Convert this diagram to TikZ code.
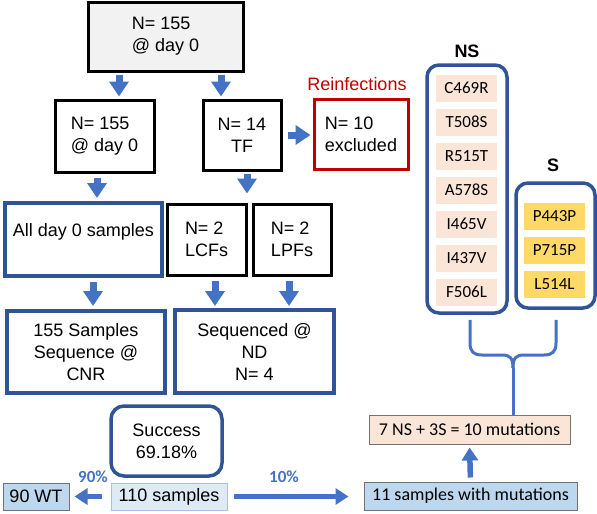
\documentclass[tikz,border=0pt]{standalone}
\usepackage{fontspec}
\setmainfont{Liberation Sans}
\newfontfamily\calibri{Carlito}
\usetikzlibrary{arrows.meta, positioning}
\definecolor{arrowblue}{HTML}{4472C4}
\definecolor{darkblue}{HTML}{2F5597}
\definecolor{peach}{HTML}{FBE5D6}
\definecolor{gold}{HTML}{FFD966}
\definecolor{paleblue}{HTML}{DEEBF7}
\definecolor{lightblue}{HTML}{BDD7EE}
\definecolor{reinf}{HTML}{C00000}

\begin{document}
\begin{tikzpicture}[x=1pt, y=-1pt,
  every node/.style={font=\fontsize{18}{22}\selectfont, inner sep=0pt},
  blackbox/.style={draw=black, line width=3pt, align=left},
  bluebox/.style={draw=darkblue, line width=4pt, align=center},
  roundbox/.style={draw=darkblue, line width=3.5pt, rounded corners=13pt},
  flatbox/.style={draw=black!55, line width=1pt, font=\calibri\fontsize{18}{22}\selectfont},
  cell/.style={minimum width=61pt, minimum height=27pt, font=\calibri\fontsize{17}{20}\selectfont},
  fat/.style={draw=arrowblue, line width=7pt, -{Triangle[length=15pt,width=19pt]}},
  slim/.style={draw=arrowblue, line width=5.5pt, -{Triangle[length=13pt,width=16pt]}},
  brace/.style={draw=arrowblue, line width=3pt},
  pct/.style={text=arrowblue, font=\calibri\bfseries\fontsize{17}{20}\selectfont}
]
  \useasboundingbox (0,0) rectangle (597,514);

  % left column: screening
  \node[blackbox, fill=black!5, minimum width=155pt, minimum height=69pt] (top) at (165.5,36.5) {N= 155\\@ day 0};
  \node[blackbox, minimum width=99pt, minimum height=72pt] (day0) at (104.5,136) {N= 155\\@ day 0};
  \node[blackbox, align=center, minimum width=78pt, minimum height=70pt] (tf) at (242,135) {N= 14\\TF};
  \node[blackbox, draw=reinf, minimum width=94pt, minimum height=70pt] (excl) at (361,134) {N= 10\\excluded};
  \node[text=reinf] (reinf) at (357,84) {Reinfections};

  \node[bluebox, minimum width=157pt, minimum height=73pt,
        label={[yshift=8pt]center:All day 0 samples}] (alld) at (83.5,239.5) {};
  \node[blackbox, minimum width=79pt, minimum height=71pt] (lcf) at (206.5,239.5) {N= 2\\LCFs};
  \node[blackbox, minimum width=78pt, minimum height=71pt] (lpf) at (292,239.5) {N= 2\\LPFs};

  \node[bluebox, minimum width=158pt, minimum height=82pt] (cnr) at (86,352) {155 Samples\\Sequence @\\CNR};
  \node[bluebox, minimum width=159pt, minimum height=83pt] (nd) at (254.5,351.5) {Sequenced @\\ND\\N= 4};

  % results
  \node[roundbox, align=center, minimum width=111pt, minimum height=70pt] (succ) at (166.5,441) {Success\\69.18\%};
  \node[draw=arrowblue!45, fill=paleblue, line width=1pt, minimum width=116pt, minimum height=27pt] (s110) at (169,496.5) {110 samples};
  \node[flatbox, fill=lightblue, font=\fontsize{18}{22}\selectfont, minimum width=66pt, minimum height=27pt] (wt) at (36,496.5) {90 WT};
  \node[flatbox, fill=lightblue, minimum width=213pt, minimum height=28pt] (mut) at (470.5,496) {11 samples with mutations};
  \node[flatbox, fill=peach, minimum width=201pt, minimum height=29pt] (sum) at (469.5,429.5) {7 NS + 3S = 10 mutations};
  \node[pct] (p90) at (93,477) {90\%};
  \node[pct] (p10) at (284,477) {10\%};

  % mutation panels
  \node[font=\bfseries\fontsize{18}{22}\selectfont] (nslab) at (467,51) {NS};
  \node[roundbox, rounded corners=12pt, minimum width=80pt, minimum height=248pt] (nsbox) at (467,189) {};
  \foreach \m [count=\i from 0] in {C469R,T508S,R515T,A578S,I465V,I437V,F506L}
    \node[cell, fill=peach] (ns\i) at (466.5,88+34*\i) {\m};

  \node[font=\bfseries\fontsize{18}{22}\selectfont] (slab) at (553,165) {S};
  \node[roundbox, rounded corners=12pt, minimum width=79pt, minimum height=125pt] (sbox) at (555.5,245.5) {};
  \foreach \m [count=\i from 0] in {P443P,P715P,L514L}
    \node[cell, fill=gold] (s\i) at (554.5,216+34*\i) {\m};

  % arrows
  \draw[fat, shorten <=2pt, shorten >=2pt] ([xshift=14.5pt]day0.north |- top.south) -- ([xshift=14.5pt]day0.north);
  \draw[fat, shorten <=2pt, shorten >=2pt] ([xshift=-21pt]tf.north |- top.south) -- ([xshift=-21pt]tf.north);
  \draw[fat, shorten <=5pt, shorten >=2pt] (tf.east) -- (tf.east -| excl.west);
  \draw[fat, shorten <=4pt, shorten >=3pt] ([xshift=13.5pt]alld.north |- day0.south) -- ([xshift=13.5pt]alld.north);
  \draw[fat, shorten <=2pt, shorten >=9pt] ([xshift=5pt]tf.south) -- ([xshift=5pt]tf.south |- lcf.north);
  \draw[fat, shorten <=4pt, shorten >=3pt] ([xshift=9.5pt]alld.south) -- ([xshift=9.5pt]alld.south |- cnr.north);
  \draw[fat, shorten <=4pt, shorten >=2pt] ([xshift=8.5pt]lcf.south) -- ([xshift=8.5pt]lcf.south |- nd.north);
  \draw[fat, shorten <=4pt, shorten >=2pt] ([xshift=-3pt]lpf.south) -- ([xshift=-3pt]lpf.south |- nd.north);
  \draw[slim, shorten <=9pt, shorten >=5pt] (s110.west) -- (wt.east);
  \draw[slim, shorten <=6pt, shorten >=15pt] (s110.east) -- (s110.east -| mut.west);
  \draw[slim, shorten <=4pt, shorten >=3pt] (mut.north) -- (sum.south);

  % brace joining NS and S
  \coordinate (stem) at (513,368);
  \draw[brace] ([xshift=3pt,yshift=-5pt]nsbox.south) -- (470,343) .. controls (470,352) and (474,355) .. (482,355)
    -- (502,355) .. controls (510,355) and (513,358) .. (stem);
  \draw[brace] ([xshift=0.5pt,yshift=-10pt]sbox.south) -- (556,343) .. controls (556,352) and (552,355) .. (544,355)
    -- (524,355) .. controls (516,355) and (513,358) .. (stem);
  \draw[brace] (stem) -- (stem |- sum.north);
\end{tikzpicture}
\end{document}
